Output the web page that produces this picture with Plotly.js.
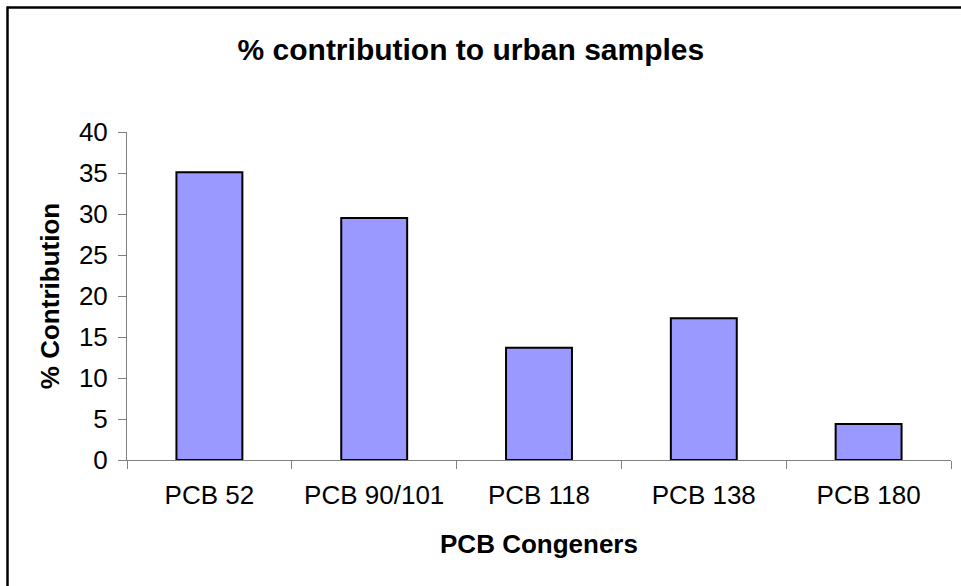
<!DOCTYPE html>
<html>
<head>
<meta charset="utf-8">
<script src="https://cdn.plot.ly/plotly-3.0.1.min.js"></script>
<style>
  html, body { margin: 0; padding: 0; background: #fff; }
  #chart { width: 961px; height: 586px; }
</style>
</head>
<body>
<div id="chart"></div>
<script>
  // data
  const congeners = ["PCB 52", "PCB 90/101", "PCB 118", "PCB 138", "PCB 180"];
  const contribution = [35.1, 29.5, 13.7, 17.3, 4.4];
  const yTicks = [0, 5, 10, 15, 20, 25, 30, 35, 40];

  const W = 961, H = 586;
  const margin = { l: 127, r: 10, t: 132, b: 126 };
  const plotW = W - margin.l - margin.r;
  const plotH = H - margin.t - margin.b;

  // pixel -> paper coords, for the frame lines
  const px = (x) => (x - margin.l) / plotW;
  const py = (y) => 1 - (y - margin.t) / plotH;

  const fontFam = "'Liberation Sans', Arial, sans-serif";

  const trace = {
    type: "bar",
    x: congeners,
    y: contribution,
    marker: { color: "#9999ff", line: { color: "#000000", width: 2 } },
    hoverinfo: "x+y"
  };

  const layout = {
    width: W,
    height: H,
    margin: margin,
    paper_bgcolor: "#ffffff",
    plot_bgcolor: "#ffffff",
    font: { family: fontFam, color: "#000000", size: 26 },
    showlegend: false,
    bargap: 0.6,
    title: {
      text: "<b>% contribution to urban samples</b>",
      font: { family: fontFam, size: 30, color: "#000000" },
      x: 0.49, xref: "container", xanchor: "center",
      y: 1 - 49 / H, yref: "container", yanchor: "middle"
    },
    xaxis: {
      type: "category",
      showgrid: false,
      zeroline: false,
      showline: true,
      linecolor: "#808080",
      linewidth: 1,
      ticks: "outside",
      tickson: "boundaries",
      ticklen: 8,
      tickcolor: "#808080",
      tickfont: { family: fontFam, size: 26, color: "#000000" },
      ticklabelstandoff: 12,
      title: {
        text: "<b>PCB Congeners</b>",
        font: { family: fontFam, size: 26, color: "#000000" },
        standoff: 25
      }
    },
    yaxis: {
      range: [0, 40],
      tickvals: yTicks,
      showgrid: false,
      zeroline: false,
      showline: true,
      linecolor: "#808080",
      linewidth: 1,
      ticks: "outside",
      ticklen: 8,
      tickcolor: "#808080",
      tickfont: { family: fontFam, size: 26, color: "#000000" },
      ticklabelstandoff: 5,
      title: {
        text: "<b>% Contribution</b>",
        font: { family: fontFam, size: 26, color: "#000000" },
        standoff: 11
      }
    },
    shapes: [
      { type: "line", xref: "paper", yref: "paper",
        x0: px(7), x1: px(W + 2), y0: py(7.5), y1: py(7.5),
        line: { color: "#000000", width: 2.5 } },
      { type: "line", xref: "paper", yref: "paper",
        x0: px(7.5), x1: px(7.5), y0: py(6.5), y1: py(H + 2),
        line: { color: "#000000", width: 2.5 } }
    ]
  };

  Plotly.newPlot("chart", [trace], layout, { displayModeBar: false, staticPlot: true });
</script>
</body>
</html>
